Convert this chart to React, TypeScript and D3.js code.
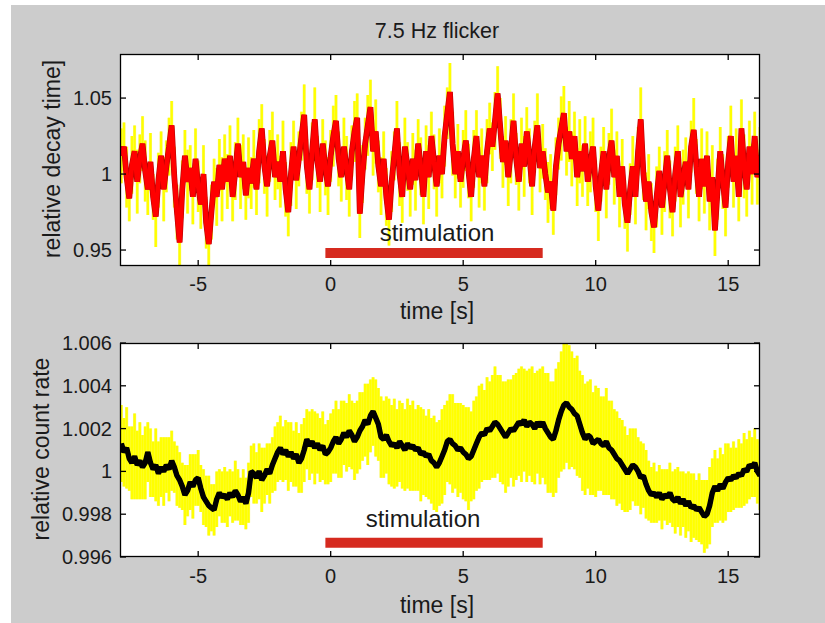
import React from 'react';
import * as d3 from 'd3';

// ---------- data ----------
const TITLE = '7.5 Hz flicker';
const X_LABEL = 'time [s]';
const TOP_Y_LABEL = 'relative decay time]';
const BOT_Y_LABEL = 'relative count rate';
const STIM_LABEL = 'stimulation';

const T_START = -7.9;
const T_STEP = 0.1;
const xDomain = [-7.95, 16.2];
const xTicks = [-5, 0, 5, 10, 15];

const topYDomain = [0.9395, 1.079];
const topYTicks = [0.95, 1, 1.05];
const botYDomain = [0.996, 1.006];
const botYTicks = [0.996, 0.998, 1, 1.002, 1.004, 1.006];

const stimInterval = [-0.2, 8];
const topStimLevel = 0.948;
const botStimLevel = 0.99667;

// relative decay time, one value per 0.1 s from -7.9 s
const decayTime = [
  1.012, 1.018, 0.998, 0.984, 1.006, 1.015, 0.995, 1.010, 1.020, 1.002,
  0.990, 1.008, 0.985, 0.972, 0.996, 1.012, 0.990, 1.005, 1.018, 1.032,
  0.998, 0.975, 0.955, 0.990, 1.012, 0.995, 1.004, 0.985, 1.010, 0.992,
  0.980, 1.000, 0.968, 0.954, 0.975, 0.995, 0.985, 1.006, 0.990, 1.010,
  0.995, 1.012, 0.985, 1.002, 1.020, 0.998, 1.008, 0.986, 1.004, 0.994,
  1.010, 0.990, 1.015, 1.030, 1.005, 0.992, 1.012, 1.022, 0.998, 1.008,
  0.995, 1.015, 0.990, 0.975, 1.000, 1.018, 0.996, 1.010, 1.025, 1.039,
  1.005, 0.990, 1.015, 1.036, 1.008, 0.995, 1.020, 1.004, 0.992, 1.012,
  1.025, 1.035, 1.010, 0.998, 1.018, 1.004, 0.990, 1.015, 1.028, 1.037,
  0.974, 1.000, 1.020, 1.032, 1.044, 1.015, 1.028, 1.005, 0.992, 1.010,
  0.985, 0.970, 0.995, 1.012, 1.030, 1.000, 0.985, 1.018, 1.005, 0.990,
  1.010, 0.996, 1.020, 1.005, 0.985, 1.015, 0.998, 1.025, 1.008, 0.992,
  1.012, 1.000, 1.025, 1.040, 1.054, 1.020, 1.000, 1.015, 0.995, 1.010,
  1.022, 1.002, 0.985, 1.010, 1.025, 0.998, 1.012, 0.992, 1.015, 1.030,
  1.018, 1.035, 1.053, 1.030, 1.008, 1.022, 0.998, 1.015, 1.035, 1.010,
  0.995, 1.020, 1.005, 1.028, 1.012, 0.992, 1.018, 1.032, 1.004, 1.015,
  1.000, 0.988, 0.995, 0.976, 1.005, 1.020, 1.030, 1.040, 1.015, 1.028,
  1.010, 1.025, 0.998, 1.015, 1.002, 1.020, 0.995, 1.008, 1.018, 0.992,
  0.976, 1.000, 1.015, 0.990, 1.010, 1.022, 0.998, 1.012, 0.985, 1.005,
  0.980, 0.968, 0.990, 1.005, 0.985, 1.015, 1.036, 1.000, 0.982, 0.995,
  0.975, 0.965, 0.985, 1.002, 0.978, 0.995, 1.012, 0.990, 0.975, 1.000,
  1.015, 0.985, 0.998, 1.008, 0.990, 1.018, 1.029, 1.005, 0.985, 1.010,
  0.992, 1.012, 0.982, 0.998, 0.963, 0.990, 1.015, 0.995, 0.978, 1.008,
  1.025, 0.995, 1.012, 0.985, 1.030, 1.005, 0.990, 1.018, 1.000, 1.025,
  0.998, 1.012,
];

// error of the decay time, in units of 0.001
const decayTimeErrMilli = [
  18, 16, 20, 15, 19, 17, 21, 16, 18, 20,
  17, 19, 15, 20, 18, 16, 21, 17, 19, 16,
  20, 18, 16, 19, 17, 21, 15, 18, 20, 17,
  16, 19, 17, 20, 18, 15, 19, 17, 21, 16,
  18, 20, 16, 19, 17, 21, 18, 16, 20, 17,
  19, 17, 21, 16, 18, 20, 17, 19, 15, 18,
  17, 20, 18, 16, 21, 17, 19, 18, 16, 20,
  18, 16, 19, 21, 17, 20, 16, 18, 19, 17,
  20, 17, 18, 16, 19, 21, 18, 17, 20, 16,
  16, 19, 17, 20, 18, 16, 21, 17, 19, 18,
  19, 17, 20, 16, 18, 21, 17, 19, 16, 18,
  17, 20, 16, 19, 18, 17, 21, 16, 18, 20,
  18, 16, 20, 17, 19, 21, 16, 18, 17, 19,
  20, 18, 16, 19, 17, 20, 18, 16, 21, 17,
  16, 19, 18, 20, 17, 16, 19, 21, 18, 17,
  19, 17, 20, 16, 18, 19, 17, 21, 16, 18,
  17, 20, 18, 16, 19, 17, 21, 18, 16, 20,
  18, 16, 19, 21, 17, 18, 16, 20, 19, 17,
  20, 18, 16, 19, 17, 21, 18, 16, 20, 18,
  16, 19, 17, 20, 18, 16, 21, 17, 19, 18,
  19, 17, 20, 16, 18, 20, 17, 19, 16, 18,
  17, 20, 18, 16, 19, 17, 21, 18, 16, 20,
  18, 16, 19, 21, 17, 20, 16, 18, 19, 17,
  20, 17, 18, 16, 19, 21, 18, 17, 20, 16,
  18, 19,
];

// relative count rate, one value per 0.1 s from -7.9 s
const countRate = [
  1.0013, 1.0009, 1.0011, 1.0006, 1.0004, 1.0007, 1.0003, 1.0005, 1.0002, 1.0004,
  1.0009, 1.0004, 1.0001, 1.0003, 0.9999, 1.0002, 1.0000, 1.0003, 1.0001, 1.0005,
  1.0002, 0.9998, 0.9996, 0.9993, 0.9989, 0.9991, 0.9995, 0.9993, 0.9996, 0.9997,
  0.9992, 0.9988, 0.9986, 0.9984, 0.9983, 0.9982, 0.9987, 0.9990, 0.9988, 0.9989,
  0.9987, 0.9990, 0.9988, 0.9991, 0.9989, 0.9986, 0.9988, 0.9985, 0.9990, 1.0000,
  0.9999, 0.9997, 1.0000, 0.9996, 0.9998, 1.0001, 0.9999, 1.0003, 1.0006, 1.0009,
  1.0011, 1.0008, 1.0010, 1.0007, 1.0009, 1.0006, 1.0008, 1.0004, 1.0006, 1.0010,
  1.0015, 1.0012, 1.0014, 1.0011, 1.0013, 1.0010, 1.0012, 1.0008, 1.0009, 1.0011,
  1.0014, 1.0016, 1.0013, 1.0015, 1.0018, 1.0016, 1.0019, 1.0017, 1.0014, 1.0016,
  1.0019, 1.0021, 1.0024, 1.0022, 1.0026, 1.0028, 1.0025, 1.0022, 1.0016, 1.0015,
  1.0017, 1.0014, 1.0012, 1.0013, 1.0011, 1.0014, 1.0012, 1.0010, 1.0013, 1.0011,
  1.0012, 1.0010, 1.0011, 1.0008, 1.0009, 1.0007, 1.0008, 1.0005, 1.0004, 1.0002,
  1.0004, 1.0007, 1.0010, 1.0014, 1.0015, 1.0013, 1.0012, 1.0010, 1.0011, 1.0009,
  1.0008, 1.0006, 1.0007, 1.0010, 1.0013, 1.0016, 1.0018, 1.0017, 1.0020, 1.0019,
  1.0021, 1.0023, 1.0022, 1.0020, 1.0018, 1.0016, 1.0018, 1.0020, 1.0019, 1.0021,
  1.0023, 1.0022, 1.0024, 1.0021, 1.0023, 1.0022, 1.0020, 1.0023, 1.0021, 1.0023,
  1.0020, 1.0018, 1.0016, 1.0015, 1.0019, 1.0024, 1.0028, 1.0031, 1.0032, 1.0030,
  1.0029, 1.0027, 1.0026, 1.0022, 1.0018, 1.0015, 1.0017, 1.0016, 1.0013, 1.0014,
  1.0015, 1.0013, 1.0012, 1.0014, 1.0011, 1.0010, 1.0008, 1.0006, 1.0005, 1.0003,
  1.0001, 0.9999, 1.0001, 1.0003, 1.0002, 1.0000, 0.9997, 0.9998, 0.9994, 0.9991,
  0.9989, 0.9990, 0.9988, 0.9990, 0.9987, 0.9989, 0.9988, 0.9990, 0.9987, 0.9986,
  0.9988, 0.9985, 0.9987, 0.9984, 0.9986, 0.9983, 0.9984, 0.9982, 0.9983, 0.9981,
  0.9979, 0.9980, 0.9984, 0.9990, 0.9993, 0.9991, 0.9994, 0.9992, 0.9995, 0.9997,
  0.9996, 0.9998, 0.9997, 0.9999, 0.9998, 1.0001, 1.0000, 1.0003, 1.0002, 1.0004,
  1.0000, 0.9998,
];

// error of the count rate, in units of 0.0001
const countRateErrTenK = [
  18, 16, 19, 15, 17, 20, 16, 18, 15, 17,
  14, 16, 13, 17, 15, 14, 16, 13, 15, 14,
  12, 14, 13, 11, 14, 12, 13, 15, 12, 13,
  11, 13, 12, 14, 11, 12, 13, 11, 12, 13,
  13, 11, 12, 14, 12, 11, 13, 12, 14, 12,
  14, 12, 13, 15, 13, 12, 14, 13, 15, 14,
  15, 13, 14, 16, 14, 13, 15, 14, 16, 15,
  14, 16, 15, 17, 14, 15, 16, 14, 15, 16,
  15, 17, 16, 18, 15, 16, 17, 16, 18, 17,
  18, 16, 17, 19, 17, 16, 18, 17, 19, 18,
  18, 20, 19, 21, 18, 19, 20, 19, 21, 20,
  21, 19, 20, 22, 20, 19, 21, 20, 22, 21,
  20, 22, 21, 19, 21, 23, 20, 22, 21, 22,
  22, 24, 21, 23, 22, 24, 23, 21, 24, 23,
  24, 26, 23, 25, 24, 26, 25, 23, 26, 25,
  25, 27, 24, 26, 25, 27, 26, 24, 27, 26,
  26, 28, 26, 27, 29, 27, 28, 30, 28, 29,
  27, 26, 28, 25, 27, 26, 25, 27, 24, 26,
  24, 22, 23, 25, 22, 23, 21, 22, 20, 21,
  20, 18, 19, 17, 18, 16, 17, 15, 16, 14,
  13, 14, 12, 13, 14, 12, 13, 14, 13, 15,
  14, 15, 13, 15, 14, 16, 15, 14, 16, 15,
  17, 16, 18, 16, 17, 15, 17, 16, 18, 16,
  15, 16, 14, 16, 15, 17, 15, 16, 14, 16,
  15, 16,
];

// ---------- layout / style ----------
const W = 825;
const H = 623;
const FONT = '"Liberation Sans", Arial, Helvetica, sans-serif';
const TEXT = '#1a1a1a';
const AX_LEFT = 120;
const AX_RIGHT = 760;
const TICK_LEN = 6;

type PanelProps = {
  id: string;
  top: number;
  bottom: number;
  yDomain: number[];
  yTicks: number[];
  values: number[];
  errs: number[];
  lineColor: string;
  edgeColor: string;
  lineWidth: number;
  errWidth: number;
  yLabel: string;
  yLabelX: number;
  stimLevel: number;
  stimTextX: number;
  stimTextY: number;
  xLabelY: number;
  tickLabelY: number;
};

function Panel(p: PanelProps) {
  const x = d3.scaleLinear().domain(xDomain).range([AX_LEFT, AX_RIGHT]);
  const y = d3.scaleLinear().domain(p.yDomain).range([p.bottom, p.top]);
  const times = p.values.map((_, i) => T_START + i * T_STEP);
  const pts = p.values.map((v, i) => ({ t: times[i], v, e: p.errs[i] }));
  const line = d3
    .line<{ t: number; v: number }>()
    .x((d) => x(d.t))
    .y((d) => y(d.v));
  const errPath = pts
    .map((d) => `M${x(d.t).toFixed(2)},${y(d.v - d.e).toFixed(2)}V${y(d.v + d.e).toFixed(2)}`)
    .join('');
  const cx = (AX_LEFT + AX_RIGHT) / 2;
  const cy = (p.top + p.bottom) / 2;
  const d = line(pts) || '';
  return (
    <g>
      <defs>
        <clipPath id={`clip-${p.id}`}>
          <rect x={AX_LEFT} y={p.top} width={AX_RIGHT - AX_LEFT} height={p.bottom - p.top} />
        </clipPath>
      </defs>
      <rect x={AX_LEFT} y={p.top} width={AX_RIGHT - AX_LEFT} height={p.bottom - p.top} fill="#ffffff" />
      <g clipPath={`url(#clip-${p.id})`}>
        <path d={errPath} stroke="#f2ee40" strokeWidth={p.errWidth + 0.8} fill="none" opacity={0.6} />
        <path d={errPath} stroke="#ffff00" strokeWidth={p.errWidth} fill="none" />
        <path d={d} stroke={p.edgeColor} strokeWidth={p.lineWidth + 1.2} fill="none" strokeLinejoin="bevel" />
        <path d={d} stroke={p.lineColor} strokeWidth={p.lineWidth} fill="none" strokeLinejoin="bevel" />
      </g>
      {/* stimulation bar */}
      <line
        x1={x(stimInterval[0])}
        x2={x(stimInterval[1])}
        y1={y(p.stimLevel)}
        y2={y(p.stimLevel)}
        stroke="#d62a1f"
        strokeWidth={10}
      />
      <text x={p.stimTextX} y={p.stimTextY} fontSize={24} textAnchor="middle" fill={TEXT} fontFamily={FONT}>
        {STIM_LABEL}
      </text>
      {/* frame */}
      <rect
        x={AX_LEFT + 0.5}
        y={p.top + 0.5}
        width={AX_RIGHT - AX_LEFT - 1}
        height={p.bottom - p.top - 1}
        fill="none"
        stroke="#000"
        strokeWidth={1.3}
      />
      {xTicks.map((t) => (
        <g key={`xt${t}`}>
          <line x1={x(t)} x2={x(t)} y1={p.bottom} y2={p.bottom - TICK_LEN} stroke="#000" strokeWidth={1.3} />
          <line x1={x(t)} x2={x(t)} y1={p.top} y2={p.top + TICK_LEN} stroke="#000" strokeWidth={1.3} />
          <text x={x(t)} y={p.tickLabelY} fontSize={20} textAnchor="middle" fill={TEXT} fontFamily={FONT}>
            {String(t)}
          </text>
        </g>
      ))}
      {p.yTicks.map((t) => (
        <g key={`yt${t}`}>
          <line x1={AX_LEFT} x2={AX_LEFT + TICK_LEN} y1={y(t)} y2={y(t)} stroke="#000" strokeWidth={1.3} />
          <line x1={AX_RIGHT} x2={AX_RIGHT - TICK_LEN} y1={y(t)} y2={y(t)} stroke="#000" strokeWidth={1.3} />
          <text x={112} y={y(t) + 7} fontSize={20} textAnchor="end" fill={TEXT} fontFamily={FONT}>
            {String(t)}
          </text>
        </g>
      ))}
      <text x={cx - 3} y={p.xLabelY} fontSize={23} textAnchor="middle" fill={TEXT} fontFamily={FONT}>
        {X_LABEL}
      </text>
      <text
        transform={`translate(${p.yLabelX},${cy - 1}) rotate(-90)`}
        fontSize={23}
        textAnchor="middle"
        fill={TEXT}
        fontFamily={FONT}
      >
        {p.yLabel}
      </text>
    </g>
  );
}

export default function App() {
  const decayErr = decayTimeErrMilli.map((e) => e * 0.001);
  const countErr = countRateErrTenK.map((e) => e * 0.0001);
  return (
    <svg
      width={W}
      height={H}
      style={{ position: 'absolute', left: 0, top: 0, display: 'block' }}
      xmlns="http://www.w3.org/2000/svg"
    >
      <rect x={0} y={0} width={W} height={H} fill="#ffffff" />
      <rect x={11} y={5} width={W - 11} height={H - 5} fill="#cccccc" />
      <text x={437} y={38} fontSize={21.5} textAnchor="middle" fill={TEXT} fontFamily={FONT}>
        {TITLE}
      </text>
      <Panel
        id="top"
        top={54}
        bottom={266}
        yDomain={topYDomain}
        yTicks={topYTicks}
        values={decayTime}
        errs={decayErr}
        lineColor="#ff0000"
        edgeColor="#b80000"
        lineWidth={4.6}
        errWidth={2.3}
        yLabel={TOP_Y_LABEL}
        yLabelX={60}
        stimLevel={topStimLevel}
        stimTextX={437}
        stimTextY={241}
        xLabelY={319}
        tickLabelY={291}
      />
      <Panel
        id="bot"
        top={343}
        bottom={557}
        yDomain={botYDomain}
        yTicks={botYTicks}
        values={countRate}
        errs={countErr}
        lineColor="#000000"
        edgeColor="#000000"
        lineWidth={4.2}
        errWidth={2.4}
        yLabel={BOT_Y_LABEL}
        yLabelX={49}
        stimLevel={botStimLevel}
        stimTextX={423}
        stimTextY={527}
        xLabelY={613}
        tickLabelY={583}
      />
    </svg>
  );
}
